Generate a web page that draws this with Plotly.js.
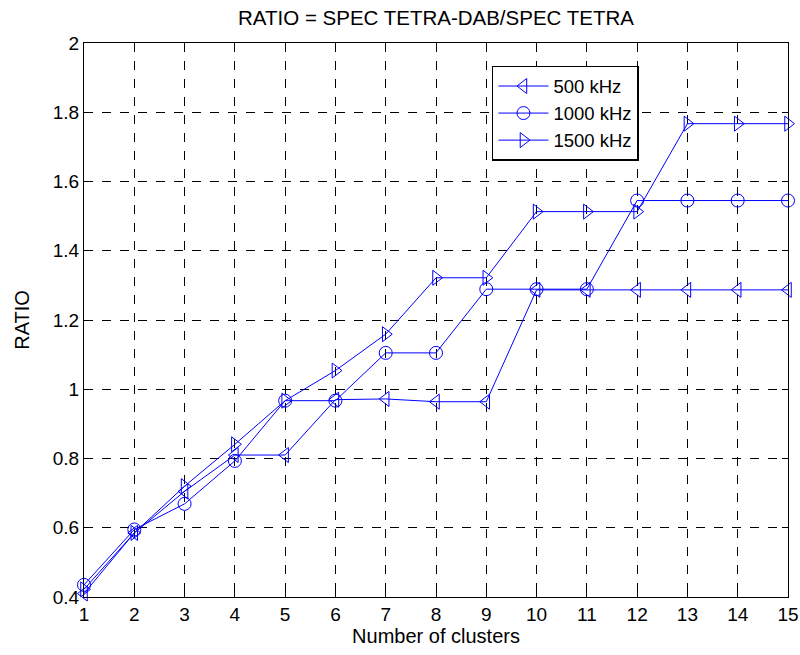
<!DOCTYPE html>
<html>
<head>
<meta charset="utf-8">
<script src="https://cdn.plot.ly/plotly-3.0.1.min.js"></script>
<style>
  html, body { margin: 0; padding: 0; background: #fff; }
  #chart { width: 800px; height: 655px; }
</style>
</head>
<body>
<div id="chart"></div>
<script>
// Number of clusters on the x axis
const clusters = [1, 2, 3, 4, 5, 6, 7, 8, 9, 10, 11, 12, 13, 14, 15];

// RATIO = SPEC TETRA-DAB / SPEC TETRA for each channel spacing
const ratio500  = [0.41, 0.585, 0.705, 0.81, 0.81, 0.97, 0.972, 0.964, 0.964, 1.287, 1.287, 1.287, 1.287, 1.287, 1.287];
const ratio1000 = [0.435, 0.595, 0.669, 0.793, 0.967, 0.967, 1.105, 1.105, 1.289, 1.289, 1.289, 1.545, 1.545, 1.545, 1.545];
const ratio1500 = [0.422, 0.585, 0.72, 0.841, 0.967, 1.054, 1.159, 1.322, 1.322, 1.513, 1.513, 1.513, 1.767, 1.767, 1.767];

const seriesNames = ['500 kHz', '1000 kHz', '1500 kHz'];
const yTickVals = [0.4, 0.6, 0.8, 1, 1.2, 1.4, 1.6, 1.8, 2];
const yTickText = ['0.4', '0.6', '0.8', '1', '1.2', '1.4', '1.6', '1.8', '2'];

const blue = '#0000ff';
const font = 'Liberation Sans, Arial, sans-serif';

function series(y, name, symbol) {
  return {
    x: clusters, y: y, name: name,
    type: 'scatter', mode: 'lines+markers',
    cliponaxis: false,
    line: { color: blue, width: 1 },
    marker: { symbol: symbol, size: 13, color: blue, line: { color: blue, width: 1 } }
  };
}

const data = [
  series(ratio500, seriesNames[0], 'triangle-left-open'),
  series(ratio1000, seriesNames[1], 'circle-open'),
  series(ratio1500, seriesNames[2], 'triangle-right-open')
];

const axisCommon = {
  showline: true, linecolor: '#000', linewidth: 1, mirror: 'ticks',
  ticks: 'inside', ticklen: 6, tickcolor: '#000',
  showgrid: true, gridcolor: '#000', gridwidth: 1, griddash: 'dash',
  zeroline: false,
  tickfont: { family: font, size: 19, color: '#000' }
};

const layout = {
  width: 800, height: 655,
  margin: { l: 84, r: 12, t: 43, b: 58 },
  paper_bgcolor: '#fff', plot_bgcolor: '#fff',
  title: {
    text: 'RATIO = SPEC TETRA-DAB/SPEC TETRA',
    font: { family: font, size: 20.5, color: '#000' },
    xref: 'paper', x: 0.5, xanchor: 'center', y: 0.9725, yanchor: 'middle'
  },
  xaxis: Object.assign({}, axisCommon, {
    range: [1, 15], dtick: 1, tick0: 1, ticklabelstandoff: 0,
    title: { text: 'Number of clusters', font: { family: font, size: 20, color: '#000' }, standoff: 3 }
  }),
  yaxis: Object.assign({}, axisCommon, {
    range: [0.4, 2], tickvals: yTickVals, ticktext: yTickText,
    title: { text: 'RATIO', font: { family: font, size: 20, color: '#000' }, standoff: 17 }
  }),
  legend: {
    x: 0.5795, y: 0.9585, xanchor: 'left', yanchor: 'top',
    bgcolor: '#fff', bordercolor: '#000', borderwidth: 1.5,
    font: { family: font, size: 18.5, color: '#000' },
    itemwidth: 50,
    tracegroupgap: 0
  },
  showlegend: true
};

Plotly.newPlot('chart', data, layout, { displayModeBar: false, staticPlot: true });
</script>
</body>
</html>
